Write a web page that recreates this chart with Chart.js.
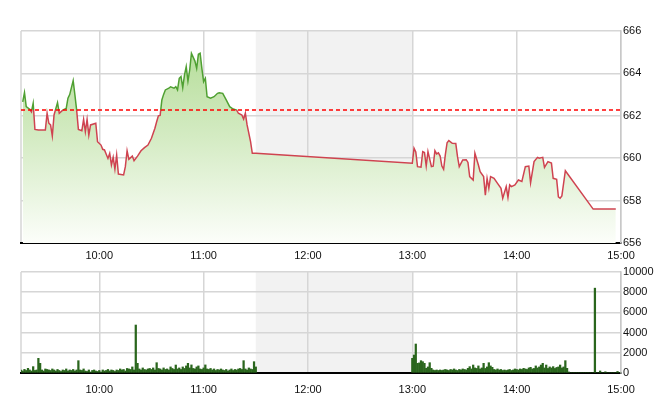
<!DOCTYPE html>
<html>
<head>
<meta charset="utf-8">
<title>Intraday price and volume</title>
<script src="https://cdn.jsdelivr.net/npm/chart.js@4.4.1/dist/chart.umd.min.js"></script>
<style>
  body { margin: 0; background: #fff; }
  canvas { display: block; }
</style>
</head>
<body>
<canvas id="priceChart" width="660" height="262"></canvas>
<canvas id="volumeChart" width="660" height="150"></canvas>
<script>
const sessionStart = '09:15';
const sessionEnd = '15:00';
const lunchBreak = ['11:30', '13:00'];
const tickTimes = ['10:00', '11:00', '12:00', '13:00', '14:00', '15:00'];
const priceTicks = [656, 658, 660, 662, 664, 666];
const volumeTicks = [0, 2000, 4000, 6000, 8000, 10000];
const refPrice = 662.27;

const priceTimes = [
  '09:16', '09:17', '09:18', '09:20', '09:21', '09:22', '09:23', '09:25', '09:29', '09:30',
  '09:31', '09:32', '09:33', '09:34', '09:36', '09:37', '09:39', '09:41', '09:42', '09:43',
  '09:45', '09:46', '09:47', '09:48', '09:50', '09:51', '09:52', '09:53', '09:54', '09:55',
  '09:58', '09:59', '10:01', '10:02', '10:03', '10:05', '10:06', '10:07', '10:08', '10:09',
  '10:10', '10:11', '10:14', '10:15', '10:16', '10:17', '10:19', '10:20', '10:22', '10:24',
  '10:26', '10:28', '10:30', '10:32', '10:33', '10:34', '10:35', '10:36', '10:37', '10:38',
  '10:40', '10:41', '10:43', '10:44', '10:45', '10:46', '10:47', '10:48', '10:49', '10:50',
  '10:51', '10:52', '10:53', '10:55', '10:56', '10:57', '10:58', '10:59', '11:00', '11:01',
  '11:02', '11:04', '11:06', '11:08', '11:09', '11:11', '11:13', '11:15', '11:17', '11:19',
  '11:20', '11:22', '11:23', '11:24', '11:25', '11:27', '11:28', '11:30',
  '13:00', '13:01', '13:02', '13:03', '13:05', '13:06', '13:07', '13:08', '13:09', '13:11',
  '13:12', '13:13', '13:14', '13:15', '13:16', '13:17', '13:18', '13:19', '13:20', '13:21',
  '13:23', '13:25', '13:26', '13:27', '13:29', '13:31', '13:32', '13:33', '13:35', '13:36',
  '13:38', '13:39', '13:41', '13:42', '13:43', '13:44', '13:45', '13:47', '13:49', '13:51',
  '13:52', '13:54', '13:55', '13:56', '13:57', '13:59', '14:01', '14:03', '14:05', '14:07',
  '14:08', '14:10', '14:12', '14:13', '14:15', '14:16', '14:18', '14:20', '14:21', '14:23',
  '14:24', '14:25', '14:26', '14:28', '14:44', '14:57'
];

const prices = [
  662.66, 663.09, 662.43, 662.31, 662.19, 662.59, 661.36, 661.33, 661.33, 662.12,
  661.65, 661.57, 661.05, 662.04, 662.62, 662.12, 662.27, 662.35, 662.83, 663.00,
  663.66, 662.98, 662.27, 661.36, 661.30, 661.83, 661.25, 661.83, 661.09, 661.57,
  661.65, 660.78, 660.62, 660.42, 660.39, 659.99, 660.23, 659.68, 660.04, 659.48,
  660.15, 659.25, 659.21, 659.60, 660.35, 659.95, 660.10, 659.88, 660.10, 660.35,
  660.50, 660.62, 660.94, 661.41, 661.72, 662.00, 662.02, 662.75, 663.01, 663.22,
  663.30, 663.37, 663.30, 663.37, 663.22, 663.77, 663.85, 663.33, 663.92, 664.32,
  663.64, 664.16, 664.95, 664.58, 664.24, 664.90, 664.95, 664.24, 663.61, 663.77,
  662.90, 662.83, 662.90, 663.06, 663.09, 663.06, 662.75, 662.43, 662.32, 662.27,
  662.12, 662.04, 661.85, 662.12, 661.57, 660.78, 660.23, 660.23,
  659.76, 660.47, 660.30, 659.60, 659.58, 660.31, 660.27, 659.63, 660.31, 659.60,
  659.62, 660.35, 660.20, 660.25, 660.10, 659.63, 659.48, 660.17, 660.73, 660.83,
  660.70, 660.69, 660.07, 659.60, 659.92, 659.93, 659.80, 659.13, 658.97, 660.23,
  659.68, 659.36, 659.13, 658.26, 659.05, 658.58, 659.13, 659.05, 658.81, 658.58,
  658.11, 658.66, 658.15, 658.74, 658.66, 658.74, 658.97, 658.90, 659.60, 659.63,
  658.84, 659.84, 660.04, 660.00, 660.04, 659.57, 659.84, 659.77, 659.05, 659.00,
  658.18, 658.11, 658.22, 659.41, 657.60, 657.60
];

// one bar per minute, morning from 09:15, afternoon from 13:00
const volumeAmStart = '09:15';
const volumeAm = [
  300, 200, 360, 250, 460, 300, 200, 630, 250, 300,
  1450, 960, 300, 200, 400, 350, 300, 250, 400, 300,
  200, 350, 250, 150, 300, 250, 400, 200, 300, 250,
  350, 200, 300, 1220, 300, 250, 400, 200, 150, 300,
  100, 250, 300, 200, 150, 250, 100, 300, 200, 250,
  350, 200, 300, 250, 150, 300, 250, 400, 300, 350,
  200, 450, 400, 350, 600, 300, 4750, 960, 400, 300,
  500, 350, 300, 400, 450, 350, 500, 300, 1020, 450,
  400, 300, 500, 350, 400, 300, 600, 450, 350, 790,
  400, 500, 350, 600, 450, 700, 960, 500, 800, 450,
  400, 600, 700, 400, 350, 500, 800, 400, 350, 450,
  300, 400, 250, 350, 300, 400, 300, 250, 350, 200,
  300, 400, 250, 350, 300, 400, 450, 350, 1220, 400,
  300, 500, 400, 350, 1120, 600
];
const volumePmStart = '13:00';
const volumePm = [
  1450, 1780, 2870, 960, 1000, 1220, 1120, 960, 460, 600,
  1020, 460, 300, 250, 300, 250, 300, 250, 300, 350,
  300, 250, 350, 300, 400, 300, 250, 350, 300, 400,
  350, 300, 460, 630, 400, 790, 500, 450, 700, 400,
  500, 960, 450, 600, 1020, 700, 560, 350, 300, 400,
  300, 350, 250, 300, 250, 300, 350, 250, 300, 400,
  350, 300, 400, 350, 460, 400, 350, 500, 560, 400,
  450, 700, 500, 600, 790, 960, 500, 790, 450, 600,
  500, 630, 450, 550, 600, 790, 500, 600, 1220, 460,
  100, 0, 0, 0, 0, 0, 0, 0, 0, 0,
  0, 0, 0, 0, 0, 8400, 0, 0, 200, 0,
  0, 120, 0, 0, 0, 0, 0, 0, 150, 0,
  0
];

const lineUp = '#4fa032';
const lineDown = '#cf4350';
const gridColor = '#d6d6d6';

function toMinutes(time) {
  const [h, m] = time.split(':').map(Number);
  return h * 60 + m;
}

function toLabel(minutes) {
  const h = Math.floor(minutes / 60);
  const m = minutes % 60;
  return `${h}:${String(m).padStart(2, '0')}`;
}

Chart.defaults.font.family = 'Arial, "Liberation Sans", sans-serif';
Chart.defaults.font.size = 11;
Chart.defaults.color = '#111';

const sessionBand = {
  id: 'sessionBand',
  beforeDraw(chart) {
    const { ctx, chartArea, scales } = chart;
    const x0 = scales.x.getPixelForValue(toMinutes(lunchBreak[0]));
    const x1 = scales.x.getPixelForValue(toMinutes(lunchBreak[1]));
    ctx.save();
    ctx.fillStyle = '#f2f2f2';
    ctx.fillRect(x0, chartArea.top, x1 - x0, chartArea.bottom - chartArea.top);
    ctx.strokeStyle = gridColor;
    ctx.lineWidth = 1.5;
    ctx.beginPath();
    ctx.moveTo(chartArea.left, chartArea.top);
    ctx.lineTo(chartArea.left, chartArea.bottom);
    ctx.stroke();
    ctx.restore();
  }
};

function timeAxis(height, padding) {
  return {
    type: 'linear',
    min: toMinutes(sessionStart),
    max: toMinutes(sessionEnd),
    offset: false,
    afterBuildTicks: axis => { axis.ticks = tickTimes.map(t => ({ value: toMinutes(t) })); },
    afterFit: axis => { axis.height = height; },
    grid: { color: gridColor, lineWidth: 1.5, drawTicks: false, offset: false },
    border: { color: '#000', width: 2 },
    ticks: { callback: v => toLabel(v), maxRotation: 0, autoSkip: false, padding }
  };
}

function valueAxis(min, max, ticks) {
  return {
    position: 'right',
    min,
    max,
    afterBuildTicks: axis => { axis.ticks = ticks.map(v => ({ value: v })); },
    afterFit: axis => { axis.width = 39; },
    grid: { color: gridColor, lineWidth: 1.5, drawTicks: false },
    border: { color: '#c8c8c8', width: 1.5 },
    ticks: { padding: 2, callback: v => String(v) }
  };
}

function splitColor(chart) {
  const { ctx, chartArea, scales } = chart;
  if (!chartArea) return lineDown;
  const yRef = scales.y.getPixelForValue(refPrice);
  const stop = Math.min(1, Math.max(0, (yRef - chartArea.top) / (chartArea.bottom - chartArea.top)));
  const g = ctx.createLinearGradient(0, chartArea.top, 0, chartArea.bottom);
  g.addColorStop(0, lineUp);
  g.addColorStop(stop, lineUp);
  g.addColorStop(stop, lineDown);
  g.addColorStop(1, lineDown);
  return g;
}

function areaFill(chart) {
  const { ctx, chartArea } = chart;
  if (!chartArea) return '#d8edc8';
  const g = ctx.createLinearGradient(0, chartArea.top, 0, chartArea.bottom);
  g.addColorStop(0, 'rgb(176,219,146)');
  g.addColorStop(0.5, 'rgb(212,235,195)');
  g.addColorStop(1, 'rgb(252,254,250)');
  return g;
}

function buildPriceChart() {
  const ctx = document.getElementById('priceChart').getContext('2d');
  new Chart(ctx, {
    type: 'line',
    data: {
      datasets: [{
        data: [
          { x: toMinutes(sessionStart), y: refPrice },
          { x: toMinutes(sessionEnd), y: refPrice }
        ],
        borderColor: '#ff0000',
        borderWidth: 1.5,
        borderDash: [4, 3],
        pointRadius: 0,
        fill: false,
        order: 1
      }, {
        data: priceTimes.map((t, i) => ({ x: toMinutes(t), y: prices[i] })),
        borderColor: c => splitColor(c.chart),
        backgroundColor: c => areaFill(c.chart),
        borderWidth: 1.5,
        fill: 'start',
        pointRadius: 0,
        tension: 0,
        order: 2
      }]
    },
    options: {
      responsive: false,
      animation: false,
      events: [],
      layout: { padding: { left: 21, top: 31, right: 0, bottom: 0 } },
      plugins: { legend: { display: false }, tooltip: { enabled: false } },
      scales: {
        x: timeAxis(19, 6),
        y: valueAxis(656, 666, priceTicks)
      }
    },
    plugins: [sessionBand]
  });
}

function buildVolumeChart() {
  const amStart = toMinutes(volumeAmStart);
  const pmStart = toMinutes(volumePmStart);
  const bars = volumeAm.map((v, i) => ({ x: amStart + i, y: v }))
    .concat(volumePm.map((v, i) => ({ x: pmStart + i, y: v })));

  const ctx = document.getElementById('volumeChart').getContext('2d');
  new Chart(ctx, {
    type: 'bar',
    data: {
      datasets: [{
        data: bars,
        backgroundColor: '#2a661d',
        barThickness: 1.6
      }]
    },
    options: {
      responsive: false,
      animation: false,
      events: [],
      layout: { padding: { left: 21, top: 10, right: 0, bottom: 0 } },
      plugins: { legend: { display: false }, tooltip: { enabled: false } },
      scales: {
        x: timeAxis(39, 10),
        y: valueAxis(0, 10000, volumeTicks)
      }
    },
    plugins: [sessionBand]
  });
}

window.addEventListener('DOMContentLoaded', () => {
  buildPriceChart();
  buildVolumeChart();
});
</script>
</body>
</html>
